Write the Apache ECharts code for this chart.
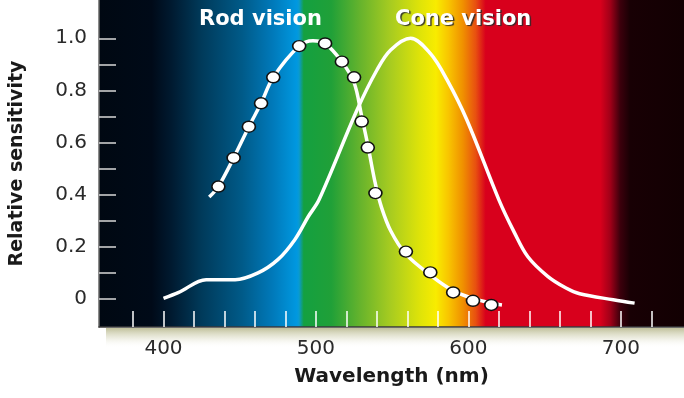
<!DOCTYPE html>
<html>
<head>
<meta charset="utf-8">
<script src="https://cdn.jsdelivr.net/npm/echarts@6/dist/echarts.min.js"></script>
<style>
    html, body { margin: 0; padding: 0; background: #fff; }
    #main { width: 684px; height: 398px; }
</style>
</head>
<body>
<div id="main"></div>
<script>
// wavelength (nm) / relative sensitivity
var rodDotsNm  = [436, 446, 456, 464, 472, 489, 506, 517, 525, 530, 534, 539, 559, 575, 590, 603, 615];
var rodDotsVal = [0.43, 0.54, 0.66, 0.75, 0.85, 0.97, 0.98, 0.91, 0.85, 0.68, 0.58, 0.405, 0.18, 0.10, 0.023, -0.009, -0.025];

var rodLineNm  = [430, 436, 446, 456, 464, 472, 489, 498, 506, 517, 525, 530, 534, 539, 543, 549, 559, 575, 590, 603, 615, 622];
var rodLineVal = [0.39, 0.43, 0.54, 0.66, 0.75, 0.85, 0.97, 0.99, 0.98, 0.91, 0.83, 0.70, 0.59, 0.44, 0.35, 0.26, 0.17, 0.09, 0.03, 0.0, -0.018, -0.025];

var coneNm  = [400, 410, 428, 447, 462, 475, 486, 495, 502, 527, 540, 549, 562, 575, 586, 599, 620, 630, 639, 652, 664, 673, 695, 709];
var coneVal = [0.0, 0.023, 0.072, 0.072, 0.098, 0.149, 0.225, 0.315, 0.379, 0.725, 0.878, 0.955, 1.0, 0.942, 0.84, 0.686, 0.379, 0.255, 0.16, 0.085, 0.04, 0.018, -0.005, -0.018];

var xTicks  = [380, 400, 420, 440, 460, 480, 500, 520, 540, 560, 580, 600, 620, 640, 660, 680, 700, 720];
var xLabels = [400, 500, 600, 700];
var yTicks  = [0, 0.1, 0.2, 0.3, 0.4, 0.5, 0.6, 0.7, 0.8, 0.9, 1.0];
var yLabels = [0, 0.2, 0.4, 0.6, 0.8, 1.0];

function pairs(xs, ys) {
    var out = [];
    for (var i = 0; i < xs.length; i++) {
        out.push([xs[i], ys[i]]);
    }
    return out;
}

var myChart = echarts.init(document.getElementById('main'));

// spectrum behind the plot
var spectrum = new echarts.graphic.LinearGradient(0, 0, 1, 0, [
    { offset: 0.00, color: '#000812' },
    { offset: 0.09, color: '#000a18' },
    { offset: 0.124, color: '#001a30' },
    { offset: 0.175, color: '#003a5a' },
    { offset: 0.244, color: '#005a88' },
    { offset: 0.295, color: '#0078b8' },
    { offset: 0.338, color: '#0098e0' },
    { offset: 0.342, color: '#0a9ad0' },
    { offset: 0.350, color: '#14a040' },
    { offset: 0.397, color: '#20a038' },
    { offset: 0.448, color: '#68b42c' },
    { offset: 0.499, color: '#a8cc20' },
    { offset: 0.550, color: '#e0e408' },
    { offset: 0.576, color: '#f8ec00' },
    { offset: 0.598, color: '#f8c400' },
    { offset: 0.622, color: '#f09000' },
    { offset: 0.644, color: '#e85010' },
    { offset: 0.661, color: '#d8001c' },
    { offset: 0.857, color: '#d8001c' },
    { offset: 0.874, color: '#a00018' },
    { offset: 0.891, color: '#3c000c' },
    { offset: 0.908, color: '#180004' },
    { offset: 1.00, color: '#120002' }
]);

var option = {
    animation: false,
    backgroundColor: '#fff',
    textStyle: { fontFamily: 'DejaVu Sans' },
    grid: {
        left: 97, right: 0, top: 0, bottom: 71,
        show: true,
        backgroundColor: spectrum,
        borderWidth: 0
    },
    graphic: [{
        type: 'rect',
        z: -10,
        shape: { x: 106, y: 328, width: 578, height: 20 },
        style: {
            fill: new echarts.graphic.LinearGradient(0, 0, 0, 1, [
                { offset: 0, color: 'rgba(170,170,120,0.75)' },
                { offset: 0.5, color: 'rgba(210,210,180,0.4)' },
                { offset: 1, color: 'rgba(255,255,255,0)' }
            ])
        }
    }, {
        type: 'text',
        left: 199, top: 9,
        style: { text: 'Rod vision', fill: '#fff', font: 'bold 21px "DejaVu Sans"' }
    }, {
        type: 'text',
        left: 395, top: 9,
        style: {
            text: 'Cone vision', fill: '#fff', font: 'bold 21px "DejaVu Sans"',
            textShadowColor: 'rgba(40,40,40,0.9)', textShadowOffsetX: 1.5, textShadowOffsetY: 1.5, textShadowBlur: 1
        }
    }],
    xAxis: {
        type: 'value',
        min: 357.7, max: 741.4,
        name: 'Wavelength (nm)',
        nameLocation: 'middle',
        nameGap: 40,
        nameTextStyle: { color: '#1a1a1a', fontSize: 20, fontWeight: 'bold', fontFamily: 'DejaVu Sans' },
        splitLine: { show: false },
        axisLine: { onZero: false, lineStyle: { color: '#3a3a3a', width: 1.5 } },
        axisTick: {
            inside: true, length: 16, customValues: xTicks,
            lineStyle: { color: '#fff', width: 1.5 }
        },
        axisLabel: {
            customValues: xLabels, margin: 12,
            color: '#2a2a2a', fontSize: 20, fontFamily: 'DejaVu Sans'
        }
    },
    yAxis: {
        type: 'value',
        min: -0.1098, max: 1.1471,
        name: 'Relative sensitivity',
        nameLocation: 'middle',
        nameGap: 72,
        nameTextStyle: { color: '#1a1a1a', fontSize: 19, fontWeight: 'bold', fontFamily: 'DejaVu Sans' },
        splitLine: { show: false },
        axisLine: { show: true, onZero: false, lineStyle: { color: '#666', width: 1.5 } },
        axisTick: {
            inside: true, length: 17, customValues: yTicks,
            lineStyle: { color: '#d8d8d8', width: 1.5 }
        },
        axisLabel: {
            customValues: yLabels, margin: 12,
            color: '#2a2a2a', fontSize: 20, fontFamily: 'DejaVu Sans',
            formatter: function (v) { return v === 0 ? '0' : v.toFixed(1); }
        }
    },
    series: [{
        name: 'Cone',
        type: 'line',
        data: pairs(coneNm, coneVal),
        smooth: 0.35,
        showSymbol: false,
        clip: false,
        lineStyle: { color: '#fff', width: 3.5 }
    }, {
        name: 'Rod',
        type: 'line',
        data: pairs(rodLineNm, rodLineVal),
        smooth: 0.35,
        showSymbol: false,
        clip: false,
        lineStyle: { color: '#fff', width: 3.5 }
    }, {
        name: 'Rod dots',
        type: 'scatter',
        data: pairs(rodDotsNm, rodDotsVal),
        symbol: 'circle',
        symbolSize: [13, 11],
        itemStyle: { color: '#fff', borderColor: '#111', borderWidth: 1.5, opacity: 1 },
        z: 5
    }]
};

myChart.setOption(option);
</script>
</body>
</html>
